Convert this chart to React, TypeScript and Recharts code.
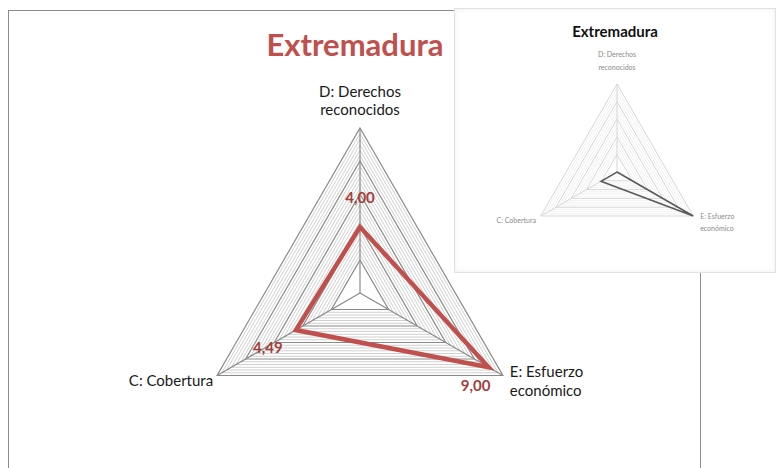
import React from "react"
import { RadarChart, Radar, PolarGrid, PolarAngleAxis, PolarRadiusAxis } from "recharts"

const categories = ["D: Derechos reconocidos", "E: Esfuerzo económico", "C: Cobertura"]
const categoryLines = [["D: Derechos", "reconocidos"], ["E: Esfuerzo", "económico"], ["C: Cobertura"]]
const mainValues = [4.0, 9.0, 4.49]
const insetValues = [0, 10, 2.1]
const majorTicks = [2, 4, 6, 8, 10]
const maxValue = 10

const mainData = categories.map((name, i) => ({ name, value: mainValues[i] }))
const insetData = categories.map((name, i) => ({ name, value: insetValues[i] }))

// placement tweaks for the value labels (relative to each point)
const valueLabelOffsets = [
  [0, -30],
  [-13, 18],
  [-28, 17],
]

const FONT = "Lato, 'Open Sans', sans-serif"
const MAIN_R = 165
const INSET_R = 88

const fmt = (v: number) => v.toFixed(2).replace(".", ",")

function radii(ticks: number[], r: number) {
  return ticks.map((t) => (t / maxValue) * r)
}

// fine hatch-like lines between the major rings (skipping the innermost band)
function minorTicks(perBand: number) {
  const out: number[] = []
  for (let b = 1; b < majorTicks.length; b++) {
    const lo = majorTicks[b - 1]
    const hi = majorTicks[b]
    for (let k = 1; k < perBand; k++) out.push(lo + ((hi - lo) * k) / perBand)
  }
  return out
}

function MainTick(props: any) {
  const { x, y, payload } = props
  const idx = categories.indexOf(payload.value)
  const lines = categoryLines[idx]
  const common = { fontFamily: FONT, fontSize: 15, fill: "#1a1a1a" }
  if (idx === 0) {
    return (
      <text x={x} y={y} textAnchor="middle" {...common}>
        <tspan x={x} dy={-23}>{lines[0]}</tspan>
        <tspan x={x} dy={18}>{lines[1]}</tspan>
      </text>
    )
  }
  if (idx === 1) {
    return (
      <text x={x} y={y} textAnchor="start" {...common}>
        <tspan x={x} dy={-3}>{lines[0]}</tspan>
        <tspan x={x} dy={19}>{lines[1]}</tspan>
      </text>
    )
  }
  return (
    <text x={x + 3} y={y + 6} textAnchor="end" {...common}>
      {lines[0]}
    </text>
  )
}

function InsetTick(props: any) {
  const { x, y, payload } = props
  const idx = categories.indexOf(payload.value)
  const lines = categoryLines[idx]
  const common = { fontFamily: FONT, fontSize: 7, fill: "#8a8a8a" }
  if (idx === 0) {
    return (
      <text x={x} y={y} textAnchor="middle" {...common}>
        <tspan x={x} dy={-19}>{lines[0]}</tspan>
        <tspan x={x} dy={13}>{lines[1]}</tspan>
      </text>
    )
  }
  if (idx === 1) {
    return (
      <text x={x} y={y} textAnchor="start" {...common}>
        <tspan x={x} dy={-1}>{lines[0]}</tspan>
        <tspan x={x} dy={12}>{lines[1]}</tspan>
      </text>
    )
  }
  return (
    <text x={x + 2} y={y + 3} textAnchor="end" {...common}>
      {lines[0]}
    </text>
  )
}

function ValueLabel(props: any) {
  const { cx, cy, index } = props
  const [dx, dy] = valueLabelOffsets[index]
  return (
    <text
      key={`v-${index}`}
      x={cx + dx}
      y={cy + dy}
      textAnchor="middle"
      dominantBaseline="central"
      fontFamily={FONT}
      fontSize={15}
      fontWeight="bold"
      fill="#a43e3b"
    >
      {fmt(mainValues[index])}
    </text>
  )
}

export default function App() {
  return (
    <div style={{ position: "absolute", left: 0, top: 0, width: 782, height: 468, overflow: "hidden", background: "#fff" }}>
      {/* chart frame */}
      <div
        style={{
          position: "absolute",
          left: 8,
          top: 10,
          width: 693,
          height: 500,
          border: "1.5px solid #8c8c8c",
          boxSizing: "border-box",
        }}
      />
      <div
        style={{
          position: "absolute",
          left: 205,
          top: 26,
          width: 300,
          textAlign: "center",
          fontFamily: FONT,
          fontWeight: "bold",
          fontSize: 31,
          lineHeight: "36px",
          color: "#c0504d",
        }}
      >
        Extremadura
      </div>
      <div style={{ position: "absolute", left: 0, top: 0 }}>
        <RadarChart width={720} height={468} data={mainData} cx={360} cy={293} outerRadius={MAIN_R} startAngle={90} endAngle={-270}>
          <PolarGrid
            gridType="polygon"
            radialLines={false}
            polarRadius={radii(minorTicks(6), MAIN_R)}
            stroke="#c4c4c4"
            strokeWidth={0.8}
          />
          <PolarGrid gridType="polygon" polarRadius={radii(majorTicks, MAIN_R)} stroke="#8a8a8a" strokeWidth={1.2} />
          <PolarAngleAxis dataKey="name" tick={MainTick} tickLine={false} axisLine={false} />
          <PolarRadiusAxis domain={[0, maxValue]} tick={false} axisLine={false} />
          <Radar
            dataKey="value"
            stroke="#c0504d"
            strokeWidth={4.5}
            strokeLinejoin="miter"
            fill="none"
            fillOpacity={0}
            dot={ValueLabel}
            isAnimationActive={false}
          />
        </RadarChart>
      </div>
      {/* small picture pasted on top */}
      <div
        style={{
          position: "absolute",
          left: 454,
          top: 8,
          width: 322,
          height: 265,
          background: "#fff",
          border: "1px solid #e2e2e2",
          boxShadow: "inset 0 0 4px rgba(0,0,0,0.08)",
          boxSizing: "border-box",
        }}
      >
        <div
          style={{
            position: "absolute",
            left: 0,
            top: 13,
            width: 322,
            textAlign: "center",
            fontFamily: FONT,
            fontWeight: "bold",
            fontSize: 15,
            lineHeight: "18px",
            color: "#111",
          }}
        >
          <span style={{ position: "relative", left: -1 }}>Extremadura</span>
        </div>
        <div style={{ position: "absolute", left: 0, top: 0 }}>
          <RadarChart width={322} height={265} data={insetData} cx={162} cy={163} outerRadius={INSET_R} startAngle={90} endAngle={-270}>
            <PolarGrid
              gridType="polygon"
              radialLines={false}
              polarRadius={radii(minorTicks(4), INSET_R)}
              stroke="#eeeeee"
              strokeWidth={0.8}
            />
            <PolarGrid gridType="polygon" polarRadius={radii(majorTicks, INSET_R)} stroke="#d6d6d6" strokeWidth={1} />
            <PolarAngleAxis dataKey="name" tick={InsetTick} tickLine={false} axisLine={false} />
            <PolarRadiusAxis domain={[0, maxValue]} tick={false} axisLine={false} />
            <Radar
              dataKey="value"
              stroke="#5a5a5a"
              strokeWidth={1.5}
              fill="none"
              fillOpacity={0}
              dot={false}
              isAnimationActive={false}
            />
          </RadarChart>
        </div>
      </div>
    </div>
  )
}
